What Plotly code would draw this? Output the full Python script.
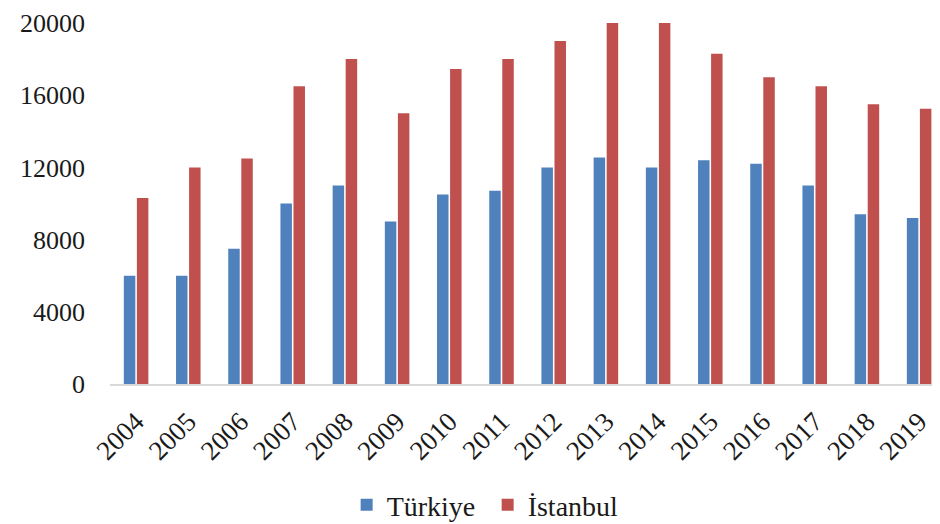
import plotly.graph_objects as go

years = ["2004", "2005", "2006", "2007", "2008", "2009", "2010", "2011",
         "2012", "2013", "2014", "2015", "2016", "2017", "2018", "2019"]
turkiye = [6000, 6000, 7500, 10000, 11000, 9000, 10500, 10700,
           12000, 12550, 12000, 12400, 12200, 11000, 9400, 9200]
istanbul = [10300, 12000, 12500, 16500, 18000, 15000, 17450, 18000,
            19000, 20000, 20000, 18300, 17000, 16500, 15500, 15250]
y_ticks = [0, 4000, 8000, 12000, 16000, 20000]

FONT = "Liberation Serif"

fig = go.Figure()
fig.add_trace(go.Bar(x=years, y=turkiye, name="Türkiye",
                     marker=dict(color="#4F81BD", line=dict(width=0))))
fig.add_trace(go.Bar(x=years, y=istanbul, name="İstanbul",
                     marker=dict(color="#C0504D", line=dict(width=0))))

# page body has an 8px margin, so the figure is shifted by 8px right/down
fig.update_layout(
    width=932, height=516,
    margin=dict(l=102, r=0, t=15, b=140, autoexpand=False),
    paper_bgcolor="white", plot_bgcolor="white",
    barmode="group", bargap=0.5, bargroupgap=0.12,
    font=dict(family=FONT, size=28, color="#1a1a1a"),
    showlegend=True,
    legend=dict(orientation="h", x=0.455, xanchor="center", y=-0.335, yanchor="middle",
                font=dict(family=FONT, size=28), itemwidth=30, entrywidth=96,
                traceorder="normal"),
)
fig.update_xaxes(type="category", range=[-0.5, 15.4], tickangle=-45, automargin=False,
                 showline=True, linecolor="#d9d9d9", linewidth=2,
                 showgrid=False, ticks="", ticklabelstandoff=9,
                 tickfont=dict(family=FONT, size=27))
fig.update_yaxes(range=[0, 20000], tickvals=y_ticks, ticktext=[str(v) for v in y_ticks],
                 showgrid=False, zeroline=False, showline=False, ticks="", automargin=False,
                 ticklabeloverflow="allow",
                 ticklabelstandoff=24, tickfont=dict(family=FONT, size=26))

fig.write_html("out.html")
